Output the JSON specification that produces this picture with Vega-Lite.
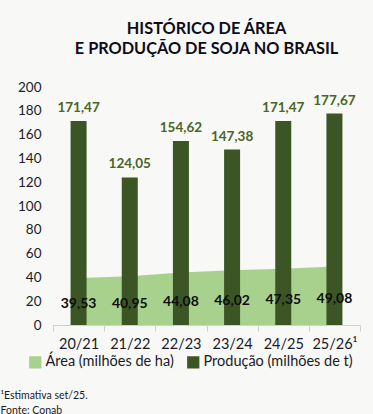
{
  "$schema": "https://vega.github.io/schema/vega-lite/v6.json",
  "autosize": "none",
  "width": 307,
  "height": 238,
  "padding": {"left": 53, "top": 87, "right": 13, "bottom": 89},
  "background": "#f8f8f6",
  "title": {
    "text": ["HISTÓRICO DE ÁREA", "E PRODUÇÃO DE SOJA NO BRASIL"],
    "font": "Lato",
    "fontSize": 16.3,
    "fontWeight": "bold",
    "color": "#0d0d1a",
    "anchor": "middle",
    "offset": 23,
    "lineHeight": 20
  },
  "config": {
    "locale": {"number": {"decimal": ",", "thousands": ".", "grouping": [3], "currency": ["R$", ""]}},
    "view": {"stroke": null},
    "font": "Lato",
    "axisY": {
      "domain": false,
      "ticks": false,
      "grid": false,
      "labelFont": "Lato",
      "labelFontSize": 13.5,
      "labelColor": "#1a1a2a",
      "labelPadding": 12,
      "labelOverlap": false,
      "title": null
    }
  },
  "data": {
    "values": [
      {"safra": "20/21", "area": 39.53, "producao": 171.47},
      {"safra": "21/22", "area": 40.95, "producao": 124.05},
      {"safra": "22/23", "area": 44.08, "producao": 154.62},
      {"safra": "23/24", "area": 46.02, "producao": 147.38},
      {"safra": "24/25", "area": 47.35, "producao": 171.47},
      {"safra": "25/26¹", "area": 49.08, "producao": 177.67}
    ]
  },
  "encoding": {
    "x": {
      "field": "safra",
      "type": "nominal",
      "sort": null,
      "scale": {"paddingInner": 0, "paddingOuter": 0},
      "axis": {
        "labelAngle": 0,
        "labelFont": "Lato",
        "labelFontSize": 14.5,
        "labelColor": "#1a1a2a",
        "labelPadding": 6,
        "tickBand": "extent",
        "domainColor": "#d0d0d0",
        "tickColor": "#d0d0d0",
        "tickSize": 6,
        "title": ["¹Estimativa set/25.", "Fonte: Conab"],
        "titleFont": "Lato",
        "titleFontSize": 10.5,
        "titleFontWeight": "normal",
        "titleColor": "#1a1a2a",
        "titleAlign": "left",
        "titleAnchor": "start",
        "titleBaseline": "alphabetic",
        "titleX": -53,
        "titleY": 73,
        "titleLineHeight": 15
      }
    }
  },
  "layer": [
    {
      "mark": {"type": "area", "opacity": 1, "interpolate": "linear"},
      "encoding": {
        "y": {
          "field": "area",
          "type": "quantitative",
          "stack": null,
          "scale": {"domain": [0, 200]},
          "axis": {"values": [0, 20, 40, 60, 80, 100, 120, 140, 160, 180, 200]}
        },
        "color": {
          "datum": "Área (milhões de ha)",
          "scale": {
            "domain": ["Área (milhões de ha)", "Produção (milhões de t)"],
            "range": ["#a9d18e", "#3b5624"]
          },
          "legend": {
            "title": null,
            "orient": "none",
            "direction": "horizontal",
            "legendX": -25,
            "legendY": 268,
            "symbolType": "square",
            "symbolSize": 150,
            "symbolStrokeWidth": 0,
            "labelFont": "Lato",
            "labelFontSize": 14.5,
            "labelColor": "#1a1a2a",
            "labelOffset": 3,
            "columnPadding": 12
          }
        }
      }
    },
    {
      "mark": {"type": "bar", "width": 16},
      "encoding": {
        "y": {
          "field": "producao",
          "type": "quantitative",
          "stack": null,
          "scale": {"domain": [0, 200]},
          "axis": {"values": [0, 20, 40, 60, 80, 100, 120, 140, 160, 180, 200]}
        },
        "color": {"datum": "Produção (milhões de t)"}
      }
    },
    {
      "mark": {"type": "text", "baseline": "bottom", "dy": -6, "font": "Lato", "fontSize": 13.5, "fontWeight": "bold", "color": "#4b6427"},
      "encoding": {
        "y": {
          "field": "producao",
          "type": "quantitative",
          "scale": {"domain": [0, 200]},
          "axis": {"values": [0, 20, 40, 60, 80, 100, 120, 140, 160, 180, 200]}
        },
        "text": {"field": "producao", "type": "quantitative", "format": ".2f"}
      }
    },
    {
      "transform": [{"calculate": "datum.area / 2", "as": "pos"}],
      "mark": {"type": "text", "baseline": "middle", "dy": 3, "font": "Lato", "fontSize": 14, "fontWeight": "bold", "color": "#0d0d0d"},
      "encoding": {
        "y": {
          "field": "pos",
          "type": "quantitative",
          "scale": {"domain": [0, 200]},
          "axis": {"values": [0, 20, 40, 60, 80, 100, 120, 140, 160, 180, 200]}
        },
        "text": {"field": "area", "type": "quantitative", "format": ".2f"}
      }
    }
  ]
}
